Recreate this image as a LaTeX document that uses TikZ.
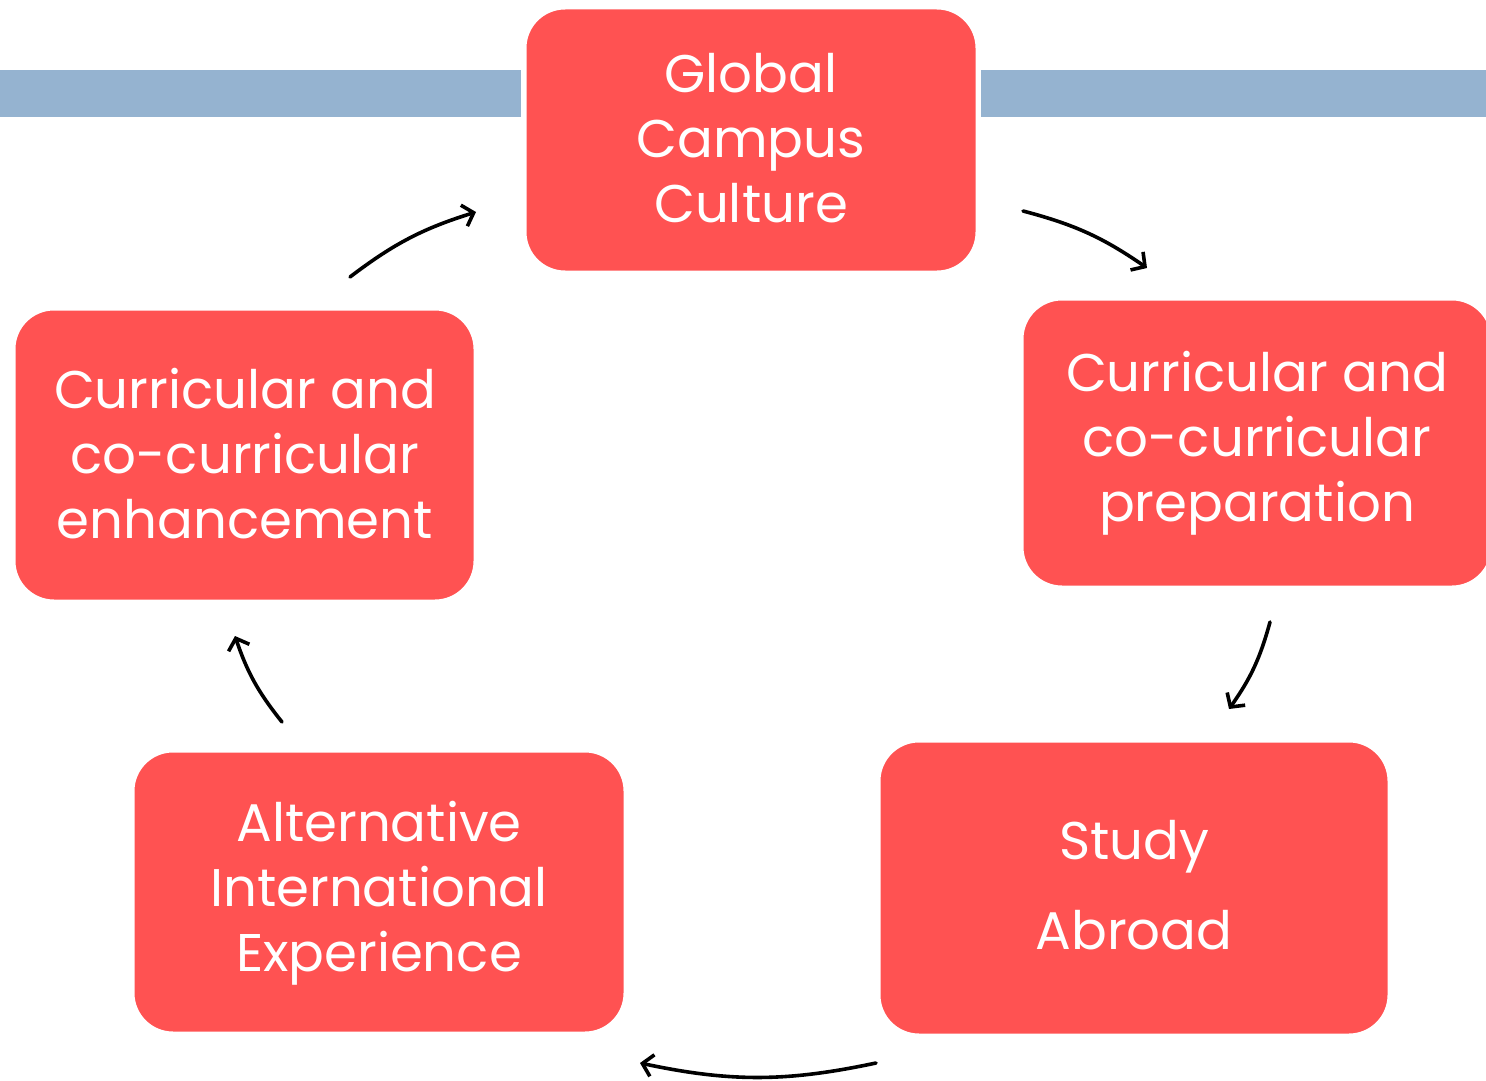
\documentclass[tikz,border=0pt]{standalone}
\usepackage{fontspec}
\setmainfont{Poppins}
\definecolor{boxred}{HTML}{FF5252}
\definecolor{barblue}{HTML}{95B3D0}
\usetikzlibrary{arrows.meta}
\tikzset{
  stagebox/.style={fill=boxred, draw=white, line width=3pt, rounded corners=40pt, inner sep=0pt},
  stagetext/.style={text=white, align=center, font=\fontsize{53}{65}\selectfont},
  cyclearrow/.style={draw=black, line width=3.6pt, line cap=round, -{Straight Barb[length=10pt,width=22pt,line width=3.6pt]}}
}
\begin{document}
\begin{tikzpicture}[x=1pt,y=-1pt]
\useasboundingbox (0,0) rectangle (1486,1081);
\fill[barblue] (0,70) rectangle (521,117);
\fill[barblue] (981,70) rectangle (1486,117);
% boxes
\draw[stagebox] (525,8) rectangle (977,272);
\draw[stagebox] (1022,299) rectangle (1492,587);
\draw[stagebox] (879,741) rectangle (1389,1035);
\draw[stagebox] (133,751) rectangle (625,1033);
\draw[stagebox] (14,309) rectangle (475,601);
% texts
\node[stagetext] (top) at (751,138) {Global\\Campus\\Culture};
\node[stagetext] (right) at (1257,443) {Curricular and\\co-curricular\\preparation};
\node[stagetext] (study) at (1134,885) {Study\\[25pt]Abroad};
\node[stagetext] (alt) at (379,893) {Alternative\\International\\Experience};
\node[stagetext] (left) at (245,454) {Curricular and\\co-curricular\\enhancement};
% arrows
\coordinate (a1s) at (1023,211); \coordinate (a1e) at (1147,268);
\coordinate (a2s) at (1270,622); \coordinate (a2e) at (1229,709);
\coordinate (a3s) at (876,1063); \coordinate (a3e) at (640,1063);
\coordinate (a4s) at (282,722); \coordinate (a4e) at (235,636);
\coordinate (a5s) at (350,277); \coordinate (a5e) at (476,212);
\draw[cyclearrow] (a1s) to[bend left=10] (a1e);
\draw[cyclearrow] (a2s) to[bend left=10] (a2e);
\draw[cyclearrow] (a3s) to[bend left=12] (a3e);
\draw[cyclearrow] (a4s) to[bend left=10] (a4e);
\draw[cyclearrow] (a5s) to[bend left=10] (a5e);
\end{tikzpicture}
\end{document}
